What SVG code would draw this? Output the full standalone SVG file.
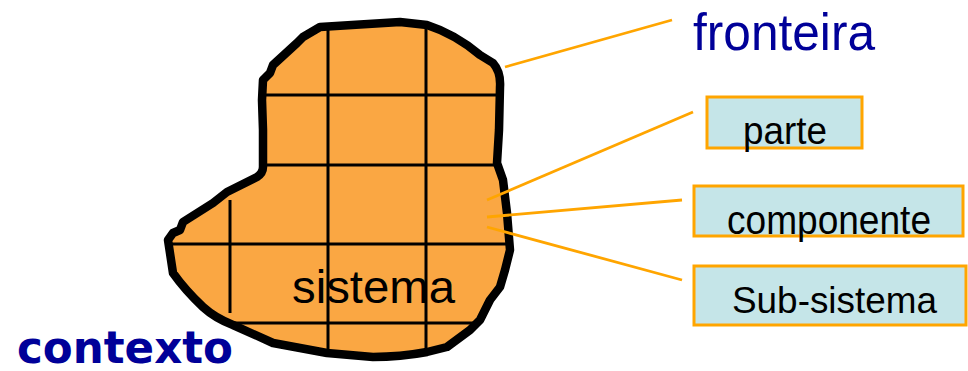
<svg xmlns="http://www.w3.org/2000/svg" width="968" height="371" viewBox="0 0 968 371">
<style>
.grid{stroke:#000;stroke-width:3;fill:none}
.lead{stroke:#FFA500;stroke-width:2.8;fill:none}
.box{fill:#C5E5E8;stroke:#FFA500;stroke-width:3}
.lbl{font-family:"Liberation Sans",Arial,sans-serif;fill:#000}
.blue{font-family:"Liberation Sans",Arial,sans-serif;fill:#000099}
</style>
<defs>
<path id="blobShape" d="M320,27 L400,22 L427,25 Q455,34 480,55 L493,63 Q501,72 500,87 L499,130 L497,163 L503,180 L507,213 L510,250 L505,270 L500,287 L490,300 L480,320 L470,330 L447,347 L427,352 Q400,357 373,357 L327,353 L273,343 L233,325 Q215,318 203,307 Q185,290 173,273 L168,240 L173,233 L180,230 L183,222 L213,203 L227,192 L257,177 Q263,173 263,167 L263,130 L262,100 L263,80 L270,73 L273,65 L297,43 L303,37 Z"/>
<clipPath id="blobClip"><use href="#blobShape"/></clipPath>
</defs>
<rect width="968" height="371" fill="#fff"/>
<g id="sistema">
<use href="#blobShape" fill="#FAA743"/>
<g clip-path="url(#blobClip)" class="grid">
<line x1="328" y1="10" x2="328" y2="365"/>
<line x1="426" y1="10" x2="426" y2="365"/>
<line x1="150" y1="95" x2="520" y2="95"/>
<line x1="150" y1="165" x2="520" y2="165"/>
<line x1="150" y1="244" x2="520" y2="244"/>
<line x1="150" y1="323" x2="520" y2="323"/>
</g>
<line class="grid" x1="230" y1="200" x2="230" y2="313"/>
<use href="#blobShape" fill="none" stroke="#000" stroke-width="8.5" stroke-linejoin="round"/>
<text class="lbl" x="292" y="303" font-size="46" textLength="163" lengthAdjust="spacingAndGlyphs">sistema</text>
</g>
<g id="connectors">
<line class="lead" x1="505" y1="67" x2="672" y2="20"/>
<line class="lead" x1="487" y1="200" x2="693" y2="112"/>
<line class="lead" x1="487" y1="217" x2="682" y2="200"/>
<line class="lead" x1="487" y1="227" x2="682" y2="280"/>
</g>
<g id="fronteira">
<text class="blue" x="693" y="50" font-size="52" textLength="182" lengthAdjust="spacingAndGlyphs">fronteira</text>
</g>
<g id="parte">
<rect class="box" x="707" y="97" width="155" height="51"/>
<text class="lbl" x="743" y="144" font-size="38" textLength="84" lengthAdjust="spacingAndGlyphs">parte</text>
</g>
<g id="componente">
<rect class="box" x="694" y="186" width="269" height="50"/>
<text class="lbl" x="727" y="234" font-size="41" textLength="204" lengthAdjust="spacingAndGlyphs">componente</text>
</g>
<g id="subsistema">
<rect class="box" x="694" y="266" width="272" height="59"/>
<text class="lbl" x="732" y="313" font-size="37" textLength="205" lengthAdjust="spacingAndGlyphs">Sub-sistema</text>
</g>
<g id="contexto">
<text x="17" y="363" font-family="'DejaVu Sans',Verdana,sans-serif" font-weight="bold" font-size="44" fill="#000099" textLength="216" lengthAdjust="spacingAndGlyphs">contexto</text>
</g>
</svg>
